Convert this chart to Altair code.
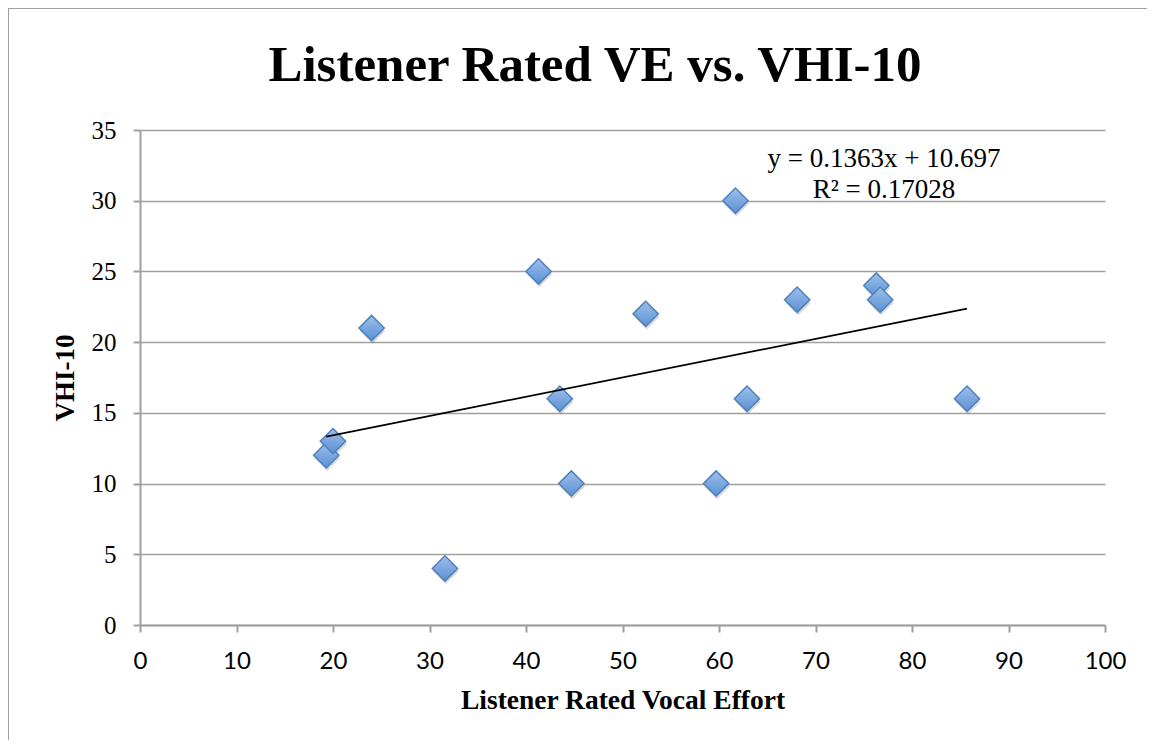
import altair as alt
import pandas as pd

# ---- data ----
effort = [19.3, 20.0, 24.0, 31.6, 41.3, 43.5, 44.7, 52.4, 59.7, 61.7, 62.9, 68.1, 76.3, 76.7, 85.7]
vhi = [12, 13, 21, 4, 25, 16, 10, 22, 10, 30, 16, 23, 24, 23, 16]
x_ticks = list(range(0, 101, 10))
y_ticks = list(range(0, 36, 5))
title_text = "Listener Rated VE vs. VHI-10"
x_title = "Listener Rated Vocal Effort"
y_title = "VHI-10"
eq_line1 = "y = 0.1363x + 10.697"
eq_line2 = "R² = 0.17028"

df = pd.DataFrame({"effort": effort, "vhi": vhi})

W, H = 965, 495
GRAY = "#a0a0a0"
SERIF = "Liberation Serif"

x_enc = alt.X(
    "effort:Q",
    scale=alt.Scale(domain=[0, 100], nice=False, zero=False),
    axis=alt.Axis(
        values=x_ticks, title=x_title, grid=False,
        domainColor=GRAY, domainWidth=2, tickColor=GRAY, tickWidth=2, tickSize=7,
        labelFont="Lato", labelFontSize=24, labelColor="black",
        labelBaseline="alphabetic", labelPadding=36, labelFlush=False, labelOverlap=False,
        titleFont=SERIF, titleFontWeight="bold", titleFontSize=27.5, titleColor="black",
        titleBaseline="alphabetic", titleY=83, titleX=W / 2,
    ),
)
y_enc = alt.Y(
    "vhi:Q",
    scale=alt.Scale(domain=[0, 35], nice=False, zero=False),
    axis=alt.Axis(
        values=y_ticks, title=y_title, grid=True, gridColor=GRAY, gridWidth=1.5,
        domainColor=GRAY, domainWidth=2, tickColor=GRAY, tickWidth=2, tickSize=7,
        labelFont=SERIF, labelFontSize=25, labelColor="black",
        labelPadding=17, labelBaseline="middle", labelFlush=False, labelOverlap=False,
        titleFont=SERIF, titleFontWeight="bold", titleFontSize=27, titleColor="black",
        titleAngle=270, titleBaseline="alphabetic", titleX=-67, titleY=H / 2,
    ),
)

base = alt.Chart(df)

shadow = base.mark_point(
    shape="diamond", filled=True, fill="black", opacity=0.15, size=640,
    xOffset=1, yOffset=3, strokeWidth=0,
).encode(x=x_enc, y=y_enc)

points = base.mark_point(
    shape="diamond", filled=True, opacity=1, size=640,
    fill=alt.LinearGradient(
        gradient="linear",
        stops=[alt.GradientStop(color="#9dc1ec", offset=0),
               alt.GradientStop(color="#5b8fd3", offset=1)],
        x1=0, x2=0, y1=0, y2=1,
    ),
    stroke="#4f81bd", strokeWidth=1.5,
).encode(x=x_enc, y=y_enc)

trend = base.transform_regression("effort", "vhi").mark_line(
    color="black", strokeWidth=1.6
).encode(x="effort:Q", y="vhi:Q")

title = alt.Chart(pd.DataFrame({"t": [title_text]})).mark_text(
    font=SERIF, fontWeight="bold", fontSize=51, color="black",
    align="center", baseline="alphabetic",
).encode(text="t:N", x=alt.value(455), y=alt.value(-49))

eq1 = alt.Chart(pd.DataFrame({"t": [eq_line1]})).mark_text(
    font=SERIF, fontSize=27, color="black", align="center", baseline="alphabetic",
).encode(text="t:N", x=alt.value(744), y=alt.value(37))

eq2 = alt.Chart(pd.DataFrame({"t": [eq_line2]})).mark_text(
    font=SERIF, fontSize=27, color="black", align="center", baseline="alphabetic",
).encode(text="t:N", x=alt.value(744), y=alt.value(68))

one = pd.DataFrame({"k": [0]})
border_left = alt.Chart(one).mark_rule(color=GRAY, strokeWidth=2).encode(
    x=alt.value(-132), y=alt.value(-122), y2=alt.value(H + 200)
)
border_top = alt.Chart(one).mark_rule(color=GRAY, strokeWidth=2).encode(
    x=alt.value(-132), x2=alt.value(W + 200), y=alt.value(-122)
)

chart = alt.layer(
    shadow, points, trend, title, eq1, eq2, border_left, border_top
).properties(
    width=W, height=H,
    autosize=alt.AutoSizeParams(type="none"),
    padding={"left": 132, "top": 122, "right": 42, "bottom": 115},
).configure_view(stroke=None)

chart.save("out.html", embed_options={"renderer": "svg", "actions": False})
